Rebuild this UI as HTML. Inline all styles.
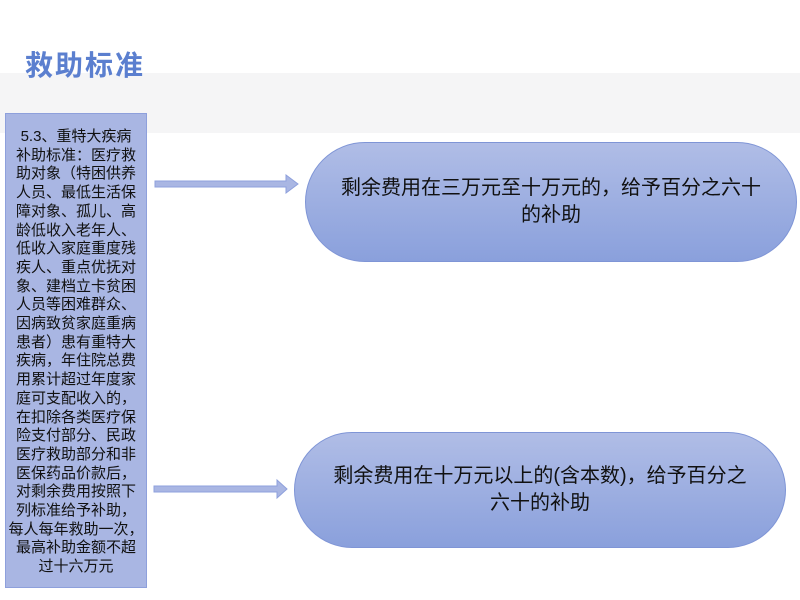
<!DOCTYPE html>
<html><head><meta charset="utf-8"><style>
body{margin:0;width:800px;height:600px;background:#fff;position:relative;overflow:hidden;font-family:"Liberation Sans","Noto Sans CJK SC",sans-serif}
.band{position:absolute;left:0;top:73px;width:800px;height:60px;background:#f5f5f6}
.title{position:absolute;left:25px;top:44px;font-size:28px;font-weight:bold;color:#5b7fcf;letter-spacing:2px;z-index:2}
.box{position:absolute;left:5px;top:113px;width:142px;height:475px;background:#a9b6e3;border:1px solid #8ea0dc;box-sizing:border-box;font-size:15px;line-height:18.7px;text-align:center;padding-top:14px;color:#111;white-space:nowrap;z-index:2}
.ov{position:absolute;border-radius:60px;background:linear-gradient(#b0bde6,#8aa0dc);border:1px solid #7f95d6;box-sizing:border-box;display:flex;align-items:center;justify-content:center;text-align:center;font-size:20px;line-height:27px;color:#111;padding:0 20px;white-space:nowrap}
</style></head><body>
<div class="title">救助标准</div>
<div class="band"></div>
<div class="box">5.3、重特大疾病<br>补助标准：医疗救<br>助对象（特困供养<br>人员、最低生活保<br>障对象、孤儿、高<br>龄低收入老年人、<br>低收入家庭重度残<br>疾人、重点优抚对<br>象、建档立卡贫困<br>人员等困难群众、<br>因病致贫家庭重病<br>患者）患有重特大<br>疾病，年住院总费<br>用累计超过年度家<br>庭可支配收入的，<br>在扣除各类医疗保<br>险支付部分、民政<br>医疗救助部分和非<br>医保药品价款后，<br>对剩余费用按照下<br>列标准给予补助，<br>每人每年救助一次，<br>最高补助金额不超<br>过十六万元</div>
<svg width="800" height="600" style="position:absolute;left:0;top:0">
<path d="M155 181 H286 V175 L298 184 L286 193 V187 H155 Z" fill="#a9b6e3" stroke="#8ea0dc"/>
<path d="M154 486 H277 V480 L287 489 L277 498 V492 H154 Z" fill="#a9b6e3" stroke="#8ea0dc"/>
</svg>
<div class="ov" style="left:305px;top:142px;width:492px;height:120px">剩余费用在三万元至十万元的，给予百分之六十<br>的补助</div>
<div class="ov" style="left:294px;top:432px;width:492px;height:116px">剩余费用在十万元以上的(含本数)，给予百分之<br>六十的补助</div>
</body></html>
